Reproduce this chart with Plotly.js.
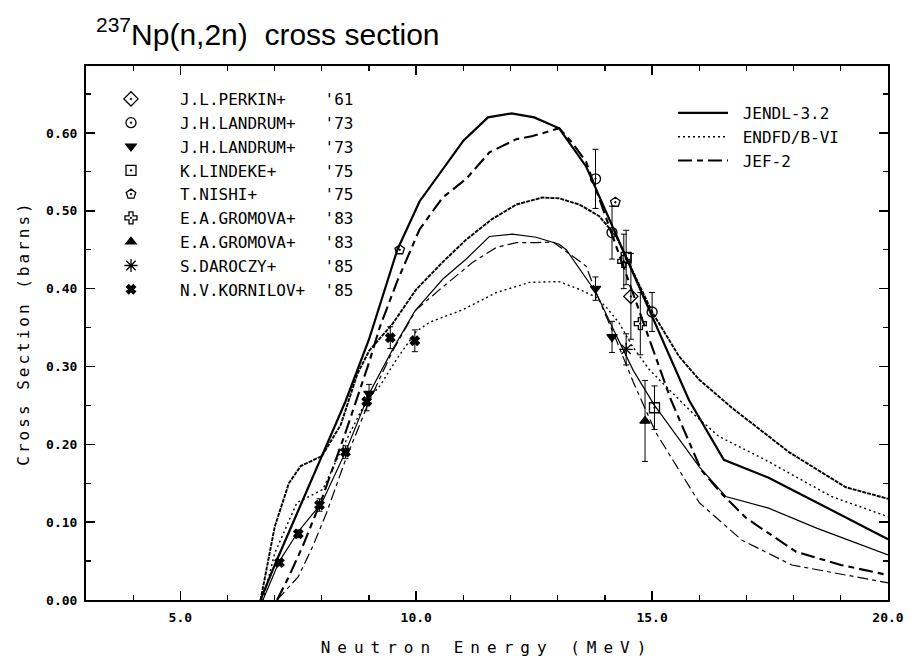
<!DOCTYPE html>
<html><head><meta charset="utf-8">
<script src="https://cdn.plot.ly/plotly-3.0.1.min.js"></script>
<style>
html,body{margin:0;padding:0;background:#fff;}
#chart{width:909px;height:669px;}
.xtitle{letter-spacing:7px;}
.ytitle{letter-spacing:3px;}
</style></head><body><div id="chart"></div>
<script>
// ---- evaluated curves ----
const jendlTotE = [6.7, 7.0, 7.5, 8.0, 8.5, 9.0, 9.6, 10.07, 10.56, 11.0, 11.52, 12.02, 12.5, 13.03, 13.6, 14.2, 15.0, 15.78, 16.52, 17.47, 18.5, 20.0];
const jendlTotS = [0, 0.045, 0.115, 0.185, 0.255, 0.335, 0.45, 0.512, 0.553, 0.59, 0.620, 0.625, 0.620, 0.606, 0.557, 0.474, 0.365, 0.257, 0.180, 0.157, 0.125, 0.078];
const jendlParE = [6.75, 7.1, 7.5, 8.0, 8.5, 9.0, 9.5, 9.97, 10.56, 11.06, 11.55, 12.04, 12.54, 13.03, 13.18, 13.81, 14.2, 14.6, 15.04, 16.0, 16.56, 17.47, 18.5, 20.0];
const jendlParS = [0, 0.05, 0.088, 0.125, 0.19, 0.265, 0.322, 0.371, 0.412, 0.438, 0.467, 0.470, 0.466, 0.457, 0.450, 0.395, 0.345, 0.295, 0.251, 0.171, 0.133, 0.118, 0.092, 0.058];
const endfTotE = [6.7, 7.0, 7.3, 7.55, 8.0, 8.4, 8.75, 9.0, 9.5, 10.0, 10.56, 11.06, 11.6, 12.12, 12.67, 13.03, 13.46, 13.88, 14.24, 15.0, 15.57, 16.0, 16.69, 17.9, 19.1, 20.0];
const endfTotS = [0, 0.094, 0.150, 0.172, 0.185, 0.225, 0.290, 0.32, 0.355, 0.399, 0.434, 0.463, 0.489, 0.508, 0.517, 0.516, 0.508, 0.493, 0.467, 0.370, 0.313, 0.283, 0.247, 0.190, 0.145, 0.130];
const endfParE = [6.75, 7.0, 7.47, 8.02, 8.38, 8.95, 9.23, 9.58, 10.0, 10.29, 10.99, 11.7, 12.4, 13.03, 13.46, 13.81, 14.03, 14.3, 14.58, 14.94, 15.43, 15.93, 16.42, 17.4, 18.8, 20.0];
const endfParS = [0, 0.06, 0.125, 0.142, 0.189, 0.257, 0.275, 0.309, 0.345, 0.357, 0.373, 0.395, 0.408, 0.409, 0.399, 0.389, 0.376, 0.356, 0.326, 0.296, 0.266, 0.236, 0.210, 0.180, 0.133, 0.107];
const jefTotE = [7.05, 7.3, 7.6, 8.0, 8.5, 9.0, 9.23, 9.6, 10.07, 10.56, 11.06, 11.55, 12.12, 12.47, 13.03, 13.3, 13.6, 14.0, 14.5, 15.0, 15.4, 16.04, 16.5, 17.0, 17.5, 18.05, 19.0, 20.0];
const jefTotS = [0, 0.03, 0.07, 0.13, 0.215, 0.305, 0.351, 0.41, 0.476, 0.517, 0.541, 0.575, 0.592, 0.596, 0.606, 0.588, 0.563, 0.495, 0.41, 0.325, 0.257, 0.167, 0.135, 0.105, 0.085, 0.062, 0.045, 0.032];
const jefParE = [7.05, 7.5, 7.8, 8.1, 8.5, 9.0, 9.5, 10.0, 10.5, 11.2, 11.7, 12.12, 12.54, 12.9, 13.6, 13.81, 14.2, 14.6, 15.08, 16.0, 16.9, 17.96, 20.0];
const jefParS = [0, 0.03, 0.068, 0.112, 0.18, 0.255, 0.32, 0.373, 0.399, 0.434, 0.453, 0.459, 0.459, 0.46, 0.429, 0.395, 0.34, 0.28, 0.215, 0.125, 0.077, 0.045, 0.022];

// ---- experimental data ----
const perkinE = [14.55], perkinS = [0.39], perkinErr = [0.055];
const landrumCE = [13.8, 14.15, 15.0], landrumCS = [0.541, 0.472, 0.370], landrumCErr = [0.038, 0.034, 0.025];
const landrumTE = [9.0, 13.8, 14.15], landrumTS = [0.265, 0.400, 0.338], landrumTErr = [0.012, 0.015, 0.02];
const lindekeE = [14.45, 15.05], lindekeS = [0.44, 0.247], lindekeErr = [0.035, 0.028];
const nishiE = [9.65, 14.22], nishiS = [0.45, 0.511];
const gromovaCE = [14.4, 14.75], gromovaCS = [0.435, 0.355], gromovaCErr = [0.035, 0.04];
const gromovaTE = [14.85], gromovaTS = [0.23], gromovaTErr = [0.052];
const daroczyE = [14.45], daroczyS = [0.322], daroczyErr = [0.02];
const kornilovE = [7.1, 7.5, 7.95, 8.5, 8.95, 9.45, 9.97];
const kornilovS = [0.048, 0.085, 0.122, 0.19, 0.255, 0.337, 0.333];
const kornilovErr = [0.004, 0.005, 0.008, 0.008, 0.012, 0.014, 0.014];

// legend labels
const expNames = ["J.L.PERKIN+", "J.H.LANDRUM+", "J.H.LANDRUM+", "K.LINDEKE+", "T.NISHI+", "E.A.GROMOVA+", "E.A.GROMOVA+", "S.DAROCZY+", "N.V.KORNILOV+"];
const expYears = ["'61", "'73", "'73", "'75", "'75", "'83", "'83", "'85", "'85"];
const evalNames = ["JENDL-3.2", "ENDFD/B-VI", "JEF-2"];

const NB = '\u00A0';
function lbl(i){ let n = expNames[i]; while(n.length < 15) n += NB; return n + expYears[i]; }

const traces = [];
function curve(x, y, name, show, dash, w){
  traces.push({x:x, y:y, type:'scatter', mode:'lines', name:NB + name, showlegend:show, legend:'legend2',
    line:{color:'#000', width:w, dash:dash, shape:'linear'}, hoverinfo:'skip'});
}
curve(jendlTotE, jendlTotS, evalNames[0], true, 'solid', 2.2);
curve(jendlParE, jendlParS, evalNames[0], false, 'solid', 1.2);
curve(endfParE, endfParS, evalNames[1], true, '2px,3px', 1.4);
curve(endfTotE, endfTotS, evalNames[1], false, '4px,1px', 1.9);
curve(jefTotE, jefTotS, evalNames[2], true, '14px,5px,6px,5px', 2.1);
curve(jefParE, jefParS, evalNames[2], false, '11px,4px,4px,4px', 1.2);

function pts(x, y, err, i, sym, size){
  const t = {x:x, y:y, type:'scatter', mode:'markers', name:lbl(i), legend:'legend',
    marker:{symbol:sym, size:size, color:'#000', line:{color:'#000', width:1.3}}, hoverinfo:'skip'};
  if (err) t.error_y = {type:'data', array:err, visible:true, color:'#000', thickness:1, width:3};
  traces.push(t);
}
pts(perkinE, perkinS, perkinErr, 0, 'diamond-open-dot', 11);
pts(landrumCE, landrumCS, landrumCErr, 1, 'circle-open-dot', 10);
pts(landrumTE, landrumTS, landrumTErr, 2, 'triangle-down', 9);
pts(lindekeE, lindekeS, lindekeErr, 3, 'square-open-dot', 10);
pts(nishiE, nishiS, null, 4, 'pentagon-open-dot', 10);
pts(gromovaCE, gromovaCS, gromovaCErr, 5, 'cross-open-dot', 10);
pts(gromovaTE, gromovaTS, gromovaTErr, 6, 'triangle-up', 9);
pts(daroczyE, daroczyS, daroczyErr, 7, 'asterisk-open', 11);
pts(kornilovE, kornilovS, kornilovErr, 8, 'x', 8);

const mono = 'DejaVu Sans Mono, monospace';
const layout = {
  width:909, height:669,
  margin:{l:86, r:21, t:66, b:69},
  paper_bgcolor:'#fff', plot_bgcolor:'#fff',
  font:{family:mono, color:'#000'},
  title:{text:'<sup>237</sup>Np(n,2n)  cross section', x:96/909, xref:'container', xanchor:'left',
    y:1-34/669, yref:'container', yanchor:'middle',
    font:{family:'Liberation Sans, Arial, sans-serif', size:30, color:'#000'}},
  xaxis:{range:[3,20], tickmode:'array', tickvals:[5,10,15,20], ticktext:['5.0','10.0','15.0','20.0'],
    ticks:'inside', ticklen:9, tickwidth:1.5, tickcolor:'#000', mirror:'ticks', showline:true, linecolor:'#000', linewidth:2,
    showgrid:false, zeroline:false, ticklabelstandoff:4,
    minor:{dtick:1, tick0:0, ticks:'inside', ticklen:5, tickwidth:1.2, tickcolor:'#000', showgrid:false},
    tickfont:{family:mono, size:13, weight:'bold'},
    title:{text:'Neutron Energy (MeV)', standoff:18, font:{family:mono, size:16}}},
  yaxis:{range:[0,0.686], tickmode:'array', tickvals:[0,0.1,0.2,0.3,0.4,0.5,0.6],
    ticktext:['0.00','0.10','0.20','0.30','0.40','0.50','0.60'],
    ticks:'inside', ticklen:9, tickwidth:1.5, tickcolor:'#000', mirror:'ticks', showline:true, linecolor:'#000', linewidth:2,
    showgrid:false, zeroline:false, ticklabelstandoff:4,
    minor:{dtick:0.05, tick0:0, ticks:'inside', ticklen:5, tickwidth:1.2, tickcolor:'#000', showgrid:false},
    tickfont:{family:mono, size:13, weight:'bold'},
    title:{text:'Cross Section (barns)', standoff:12, font:{family:mono, size:16}}},
  legend:{x:(82-86)/802, xanchor:'left', y:(600-82)/534, yanchor:'top', bgcolor:'rgba(0,0,0,0)',
    font:{family:mono, size:16}, tracegroupgap:0, itemwidth:88, traceorder:'normal'},
  legend2:{x:(673-86)/802, xanchor:'left', y:(600-96)/534, yanchor:'top', bgcolor:'rgba(0,0,0,0)',
    font:{family:mono, size:16}, tracegroupgap:0, itemwidth:50, traceorder:'normal'},
  showlegend:true
};
Plotly.newPlot('chart', traces, layout, {staticPlot:true, displayModeBar:false});
</script></body></html>
